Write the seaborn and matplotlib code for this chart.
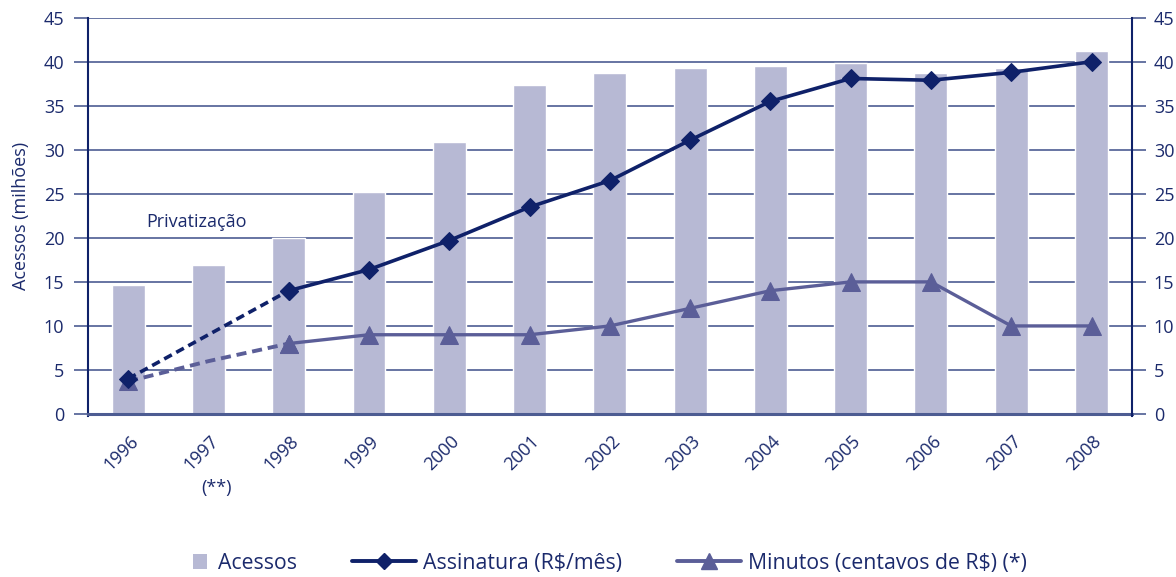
import numpy as np
import matplotlib
matplotlib.use("Agg")
import matplotlib.pyplot as plt
import matplotlib.transforms as mtransforms
import seaborn as sns
from matplotlib.lines import Line2D
from matplotlib.patches import Rectangle
from matplotlib.legend_handler import HandlerPatch

# ---- data -------------------------------------------------------------
years = ["1996", "1997", "1998", "1999", "2000", "2001", "2002",
         "2003", "2004", "2005", "2006", "2007", "2008"]
acessos = [14.7, 16.9, 20.0, 25.2, 30.9, 37.4, 38.7, 39.3, 39.5, 39.9, 38.7, 39.3, 41.2]
assinatura = [4.0, np.nan, 14.0, 16.4, 19.7, 23.5, 26.5, 31.1, 35.5, 38.1, 37.9, 38.8, 40.0]
minutos = [3.7, 6.0, 8.0, 9.0, 9.0, 9.0, 10.0, 12.0, 14.0, 15.0, 15.0, 10.0, 10.0]
yticks = [0, 5, 10, 15, 20, 25, 30, 35, 40, 45]
n_estimated = 3  # 1996-1998 drawn dashed

# ---- style ------------------------------------------------------------
BAR = "#b7b9d4"
NAVY = "#0f2169"
SLATE = "#5b5e98"
GRID = "#4d5c92"
TXT = "#1b2a6c"

sns.set_theme(style="white")
plt.rcParams["font.family"] = ["Open Sans", "DejaVu Sans"]
plt.rcParams["text.color"] = TXT

fig = plt.figure(figsize=(11.76, 5.77), dpi=100)
ax = fig.add_axes([0.0748, 0.2825, 0.8875, 0.6868])

pos = np.arange(len(years))
ass = np.array(assinatura, dtype=float)
mins = np.array(minutos, dtype=float)

# bars
sns.barplot(x=pos, y=acessos, color=BAR, saturation=1, width=0.41,
            ax=ax, native_scale=True, zorder=1)

# Assinatura: dashed estimate, then solid series
est = slice(0, n_estimated)
m = ~np.isnan(ass[est])
sns.lineplot(x=pos[est][m], y=ass[est][m], ax=ax, color=NAVY, lw=2.6,
             linestyle=(0, (2.4, 1.4)), marker="D", markersize=9,
             markeredgecolor=NAVY, zorder=4)
sns.lineplot(x=pos[n_estimated - 1:], y=ass[n_estimated - 1:], ax=ax, color=NAVY,
             lw=2.6, marker="D", markersize=9, markeredgecolor=NAVY, zorder=4)

# Minutos: dashed estimate, then solid series
sns.lineplot(x=pos[est], y=mins[est], ax=ax, color=SLATE, lw=2.8,
             linestyle=(0, (2.6, 1.5)), marker="^", markersize=12.5,
             markeredgecolor=SLATE, markevery=[0, n_estimated - 1], zorder=3)
sns.lineplot(x=pos[n_estimated - 1:], y=mins[n_estimated - 1:], ax=ax, color=SLATE,
             lw=2.4, marker="^", markersize=12.5, markeredgecolor=SLATE, zorder=3)

# ---- axes -------------------------------------------------------------
ax.set_xlim(-0.5, len(years) - 0.5)
ax.set_ylim(0, 45)
ax.set_yticks(yticks)
ax.set_yticklabels([str(v) for v in yticks])
ax.set_axisbelow(True)
ax.yaxis.grid(True, color=GRID, lw=1.2, zorder=0)
ax.xaxis.grid(False)

ax.set_xticks(pos)
ax.set_xticklabels([])
ax.set_xticks(np.arange(-0.5, len(years), 1), minor=True)
ax.tick_params(axis="x", which="major", length=0)
ax.tick_params(axis="x", which="minor", length=8, width=1.2, color=NAVY, direction="out")
ax.tick_params(axis="y", which="major", length=10, width=1.2, color=GRID,
               direction="out", labelsize=13, labelcolor=TXT, pad=7)

ax.spines["top"].set_visible(False)
ax.spines["left"].set_color(NAVY)
ax.spines["left"].set_linewidth(1.5)
ax.spines["right"].set_visible(False)
ax.spines["bottom"].set_color(GRID)
ax.spines["bottom"].set_linewidth(2.2)
ax.spines["bottom"].set_zorder(5)

ax.set_xlabel("")
ax.set_ylabel("Acessos (milhões)", fontsize=13, color=TXT)
ax.yaxis.set_label_coords(-0.0555, 0.5)

# rotated year labels
offset = mtransforms.ScaledTranslation(0.01, -0.18, fig.dpi_scale_trans)
for p, yr in zip(pos, years):
    ax.text(p, 0, yr, transform=ax.transData + offset, rotation=45,
            rotation_mode="anchor", ha="right", va="top", fontsize=13, color=TXT)

blend = mtransforms.blended_transform_factory(ax.transData, ax.transAxes)
ax.text(1.1, -0.187, "(**)", transform=blend, ha="center", va="center",
        fontsize=13, color=TXT)
ax.text(0.85, 21.8, "Privatização", ha="center", va="center", fontsize=13, color=TXT)

# right-hand axis with the same scale
ax2 = ax.twinx()
ax2.set_ylim(ax.get_ylim())
ax2.set_yticks(yticks)
ax2.set_yticklabels([str(v) for v in yticks])
ax2.grid(False)
ax2.tick_params(axis="y", length=10, width=1.2, color=GRID, direction="out",
                labelsize=13, labelcolor=TXT, pad=6)
for side in ["top", "left", "bottom"]:
    ax2.spines[side].set_visible(False)
ax2.spines["right"].set_color(NAVY)
ax2.spines["right"].set_linewidth(1.5)
ax2.spines["right"].set_bounds(-0.2, 45)
ax.spines["left"].set_bounds(-0.2, 45)


# ---- legend -----------------------------------------------------------
def small_square(legend, orig_handle, xdescent, ydescent, width, height, fontsize):
    return Rectangle((width - 12, -ydescent + (height - 11) / 2), 10, 11)


bar_handle = Rectangle((0, 0), 1, 1, facecolor=BAR, edgecolor="none")
handles = [
    bar_handle,
    Line2D([], [], color=NAVY, lw=2.8, marker="D", markersize=8),
    Line2D([], [], color=SLATE, lw=2.8, marker="^", markersize=12),
]
labels = ["Acessos", "Assinatura (R$/mês)", "Minutos (centavos de R$) (*)"]
fig.legend(handles, labels, loc="center", bbox_to_anchor=(0.499, 0.024), ncol=3,
           frameon=False, fontsize=15.3, handlelength=3.0, handletextpad=0.35,
           columnspacing=2.6, labelcolor=TXT,
           handler_map={bar_handle: HandlerPatch(patch_func=small_square)})

fig.savefig("out.png", dpi=100)
